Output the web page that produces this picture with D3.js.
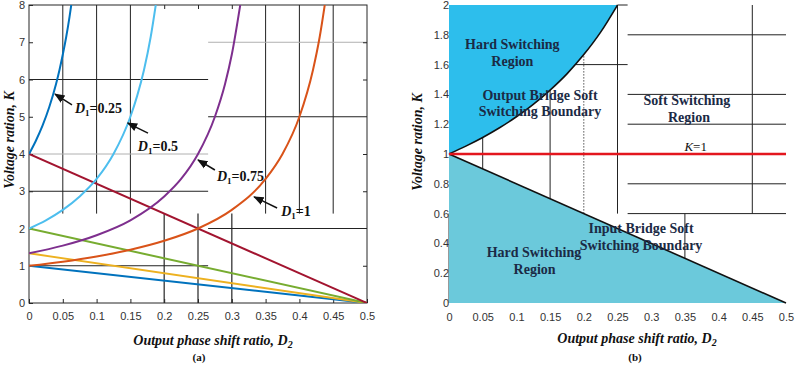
<!DOCTYPE html>
<html><head><meta charset="utf-8">
<script src="https://cdn.jsdelivr.net/npm/d3@7"></script>
<style>body{margin:0;background:#fff}svg{display:block}</style>
</head><body>
<svg id="c" width="798" height="365"></svg>
<script>
// ---------- data ----------
const xTicks = [0,0.05,0.1,0.15,0.2,0.25,0.3,0.35,0.4,0.45,0.5];
const yTicksA = [0,1,2,3,4,5,6,7,8];
const yTicksB = [0,0.2,0.4,0.6,0.8,1,1.2,1.4,1.6,1.8,2];

// rising curves (panel a)
const d2_D1_025 = [0,0.01,0.02,0.03,0.04,0.045,0.05,0.055,0.06,0.0625];
const k_D1_025  = [4,4.35,4.76,5.26,5.88,6.25,6.67,7.14,7.69,8];
const d2_D1_05  = [0,0.025,0.05,0.075,0.1,0.125,0.15,0.16,0.17,0.18,0.1875];
const k_D1_05   = [2,2.22,2.5,2.86,3.33,4,5,5.56,6.25,7.14,8];
const d2_D1_075 = [0,0.05,0.1,0.15,0.2,0.225,0.25,0.275,0.29,0.3,0.3125];
const k_D1_075  = [1.333,1.54,1.82,2.22,2.86,3.33,4,5,5.88,6.67,8];
const d2_D1_1   = [0,0.05,0.1,0.15,0.2,0.25,0.3,0.35,0.375,0.4,0.42,0.43,0.4375];
const k_D1_1    = [1,1.11,1.25,1.43,1.67,2,2.5,3.33,4,5,6.25,7.14,8];
// falling lines (panel a)
const d2_fall = [0,0.5];
const k_fall_blue   = [1,0];
const k_fall_yellow = [1.333,0];
const k_fall_green  = [2,0];
const k_fall_red    = [4,0];

// panel b boundaries
const d2_outBoundary = [0,0.025,0.05,0.075,0.1,0.125,0.15,0.175,0.2,0.225,0.25];
const k_outBoundary  = [1,1.053,1.111,1.176,1.25,1.333,1.429,1.538,1.667,1.818,2];
const d2_inBoundary = [0,0.5];
const k_inBoundary  = [1,0];
const d2_kOne = [0,0.5];
const k_kOne  = [1,1];

// stray grid segments seen in the figure (data units)
const gridA_v = [ {d:0.05,k0:2.4,k1:8},{d:0.1,k0:2.4,k1:8},{d:0.15,k0:2.4,k1:8},
                  {d:0.35,k0:2.4,k1:8},{d:0.4,k0:2.4,k1:8},{d:0.45,k0:2.4,k1:8},
                  {d:0.2,k0:0,k1:2.4},{d:0.25,k0:0,k1:2.4},{d:0.3,k0:0,k1:2.4} ];
const gridA_h = [ {k:6,d0:0,d1:0.265,c:'#222'},{k:3,d0:0,d1:0.265,c:'#222'},{k:1,d0:0,d1:0.265,c:'#222'},
                  {k:4,d0:0,d1:0.265,c:'#b0b0b0'},{k:7,d0:0.265,d1:0.5,c:'#b0b0b0'},
                  {k:5,d0:0.265,d1:0.5,c:'#222'},{k:2,d0:0.265,d1:0.5,c:'#222'} ];
const gridB_v = [ {d:0.05,k0:0.9,k1:1.111},{d:0.15,k0:0.7,k1:1.429},
                  {d:0.25,k0:0.6,k1:2},{d:0.45,k0:0.6,k1:2},{d:0.35,k0:0.3,k1:0.6} ];
const gridB_dotted = [ {d:0.2,k0:0.6,k1:1.667} ];
const gridB_h = [ {k:1.6,d0:0.188,d1:0.265},{k:2,d0:0.25,d1:0.265},
                  {k:1.8,d0:0.265,d1:0.5},{k:1.4,d0:0.265,d1:0.5},{k:1.2,d0:0.265,d1:0.5},
                  {k:0.8,d0:0.265,d1:0.5},{k:0.6,d0:0.265,d1:0.5} ];

// ---------- drawing ----------
const svg = d3.select('#c');
const serif = '"Liberation Serif","Times New Roman",serif';
const sans = '"Liberation Sans",Arial,sans-serif';

const xA = d3.scaleLinear().domain([0,0.5]).range([29,367]);
const yA = d3.scaleLinear().domain([0,8]).range([303,5]);
const xB = d3.scaleLinear().domain([0,0.5]).range([449,786]);
const yB = d3.scaleLinear().domain([0,2]).range([303,5]);

svg.append('defs').html(
 '<clipPath id="clipA"><rect x="29" y="5" width="338" height="298"/></clipPath>'+
 '<marker id="arr" viewBox="0 0 10 10" refX="9" refY="5" markerWidth="7" markerHeight="7" orient="auto"><path d="M0,1 L10,5 L0,9 z" fill="#111"/></marker>');

// ===== Panel A =====
const gA = svg.append('g');
gA.selectAll('line.gv').data(gridA_v).join('line')
  .attr('x1',d=>xA(d.d)).attr('x2',d=>xA(d.d)).attr('y1',d=>yA(d.k0)).attr('y2',d=>yA(d.k1))
  .attr('stroke',d=>d.k0===0?'#444':'#222').attr('stroke-width',d=>d.k0===0?1.4:1);
gA.selectAll('line.gh').data(gridA_h).join('line')
  .attr('x1',d=>xA(d.d0)).attr('x2',d=>xA(d.d1)).attr('y1',d=>yA(d.k)).attr('y2',d=>yA(d.k))
  .attr('stroke',d=>d.c).attr('stroke-width',1);

// frame
const fr = gA.append('g').attr('stroke','#262626').attr('stroke-width',1).attr('fill','none');
fr.append('rect').attr('x',xA(0)).attr('y',yA(8)).attr('width',xA(0.5)-xA(0)).attr('height',yA(0)-yA(8));

// axes
const axB = gA.append('g').attr('transform',`translate(0,${yA(0)})`)
  .call(d3.axisBottom(xA).tickValues(xTicks).tickFormat(d=>d).tickSizeInner(-4).tickSizeOuter(0).tickPadding(9));
const axL = gA.append('g').attr('transform',`translate(${xA(0)},0)`)
  .call(d3.axisLeft(yA).tickValues(yTicksA).tickFormat(d=>d).tickSizeInner(-4).tickSizeOuter(0).tickPadding(4));
const axT = gA.append('g').attr('transform',`translate(0,${yA(8)})`)
  .call(d3.axisTop(xA).tickValues([0.2,0.25,0.3]).tickFormat('').tickSizeInner(-4).tickSizeOuter(0));
const axR = gA.append('g').attr('transform',`translate(${xA(0.5)},0)`)
  .call(d3.axisRight(yA).tickValues([1,3,4,6,7]).tickFormat('').tickSizeInner(-4).tickSizeOuter(0));
[axB,axL,axT,axR].forEach(a=>{a.select('.domain').remove();
  a.selectAll('line').attr('stroke','#262626');
  a.selectAll('text').attr('font-family',sans).attr('font-size',11).attr('fill','#333');});

// curves
const lineA = (xs,ks,curve)=>d3.line().x(i=>xA(xs[i])).y(i=>yA(ks[i])).curve(curve||d3.curveMonotoneX)(d3.range(xs.length));
const seriesA = [
  [d2_fall,k_fall_blue,'#0072BD'],
  [d2_fall,k_fall_yellow,'#EDB120'],
  [d2_fall,k_fall_green,'#77AC30'],
  [d2_fall,k_fall_red,'#A2142F'],
  [d2_D1_025,k_D1_025,'#0072BD'],
  [d2_D1_05,k_D1_05,'#4DBEEE'],
  [d2_D1_075,k_D1_075,'#7E2F8E'],
  [d2_D1_1,k_D1_1,'#D95319']
];
const cg = gA.append('g').attr('clip-path','url(#clipA)');
seriesA.forEach(s=>cg.append('path').attr('d',lineA(s[0],s[1])).attr('fill','none')
  .attr('stroke',s[2]).attr('stroke-width',2));

// annotations
const annA = [
  {t:'0.25', tx:0.068, tk:5.23, ax:0.0636, ak:5.32, hx:0.0385, hk:5.61},
  {t:'0.5',  tx:0.161, tk:4.21, ax:0.176, ak:4.56, hx:0.146, hk:4.83},
  {t:'0.75', tx:0.278, tk:3.41, ax:0.275, ak:3.57, hx:0.25, hk:3.84},
  {t:'1',    tx:0.373, tk:2.47, ax:0.367, ak:2.55, hx:0.333, hk:2.85}
];
annA.forEach(a=>{
  gA.append('line').attr('x1',xA(a.ax)).attr('y1',yA(a.ak)).attr('x2',xA(a.hx)).attr('y2',yA(a.hk))
    .attr('stroke','#111').attr('stroke-width',1.5).attr('marker-end','url(#arr)');
  const t = gA.append('text').attr('x',xA(a.tx)).attr('y',yA(a.tk)).attr('dy','0.35em')
    .attr('font-family',serif).attr('font-weight','bold').attr('font-size',14).attr('fill','#111');
  t.append('tspan').attr('font-style','italic').text('D');
  t.append('tspan').attr('font-size',9).attr('dy',3).text('1');
  t.append('tspan').attr('dy',-3).text('='+a.t);
});

// labels
function xLabel(g,cx,cy){
  const t=g.append('text').attr('x',cx).attr('y',cy).attr('text-anchor','middle').attr('dy','0.35em')
   .attr('font-family',serif).attr('font-weight','bold').attr('font-style','italic').attr('font-size',14).attr('fill','#111');
  t.append('tspan').text('Output phase shift ratio, D');
  t.append('tspan').attr('font-size',10).attr('dy',3).text('2');
}
function yLabel(g,cx,cy){
  g.append('text').attr('transform',`translate(${cx},${cy}) rotate(-90)`).attr('text-anchor','middle').attr('dy','0.35em')
   .attr('font-family',serif).attr('font-weight','bold').attr('font-style','italic').attr('font-size',14).attr('fill','#111')
   .text('Voltage ration, K');
}
xLabel(gA,213,340);
yLabel(gA,9,140);
gA.append('text').attr('x',199).attr('y',357).attr('text-anchor','middle').attr('dy','0.35em')
  .attr('font-family',serif).attr('font-weight','bold').attr('font-size',11).attr('fill','#111').text('(a)');

// ===== Panel B =====
const gB = svg.append('g');
const axBL = gB.append('g').attr('transform',`translate(${xB(0)+1},0)`)
  .call(d3.axisLeft(yB).tickValues(yTicksB).tickFormat(d=>d).tickSize(0).tickPadding(1));
const axBB = gB.append('g').attr('transform',`translate(0,${yB(0)})`)
  .call(d3.axisBottom(xB).tickValues(xTicks).tickFormat(d=>d).tickSize(0).tickPadding(10));
[axBL,axBB].forEach(a=>{a.select('.domain').remove();
  a.selectAll('text').attr('font-family',sans).attr('font-size',11).attr('fill','#333');});
gB.append('line').attr('x1',xB(0)).attr('x2',xB(0)).attr('y1',yB(0)).attr('y2',yB(0.6))
  .attr('stroke','#555').attr('stroke-width',1.2);

// fills
const upperIdx = d3.range(d2_outBoundary.length);
const upperPts = upperIdx.map(i=>[xB(d2_outBoundary[i]),yB(k_outBoundary[i])]);
gB.append('path').attr('d', d3.line().curve(d3.curveMonotoneX)(upperPts)+`L${xB(0)},${yB(2)}Z`)
  .attr('fill','#2DBEEC');
gB.append('path').attr('d', `M${xB(0)},${yB(0)}L${xB(d2_inBoundary[0])},${yB(k_inBoundary[0])}L${xB(d2_inBoundary[1])},${yB(k_inBoundary[1])}Z`)
  .attr('fill','#6BC9DB');

// stray grid
gB.selectAll('line.gv').data(gridB_v).join('line')
  .attr('x1',d=>xB(d.d)).attr('x2',d=>xB(d.d)).attr('y1',d=>yB(d.k0)).attr('y2',d=>yB(d.k1))
  .attr('stroke','#222').attr('stroke-width',1);
gB.selectAll('line.gd').data(gridB_dotted).join('line')
  .attr('x1',d=>xB(d.d)).attr('x2',d=>xB(d.d)).attr('y1',d=>yB(d.k0)).attr('y2',d=>yB(d.k1))
  .attr('stroke','#555').attr('stroke-width',1).attr('stroke-dasharray','1.5,1.5');
gB.selectAll('line.gh').data(gridB_h).join('line')
  .attr('x1',d=>xB(d.d0)).attr('x2',d=>xB(d.d1)).attr('y1',d=>yB(d.k)).attr('y2',d=>yB(d.k))
  .attr('stroke','#222').attr('stroke-width',1);

// boundaries
gB.append('path').attr('d',d3.line().curve(d3.curveMonotoneX)(upperPts)).attr('fill','none')
  .attr('stroke','#111').attr('stroke-width',1.6);
gB.append('path').attr('d',d3.line()(d3.range(2).map(i=>[xB(d2_inBoundary[i]),yB(k_inBoundary[i])])))
  .attr('fill','none').attr('stroke','#111').attr('stroke-width',1.6);
gB.append('path').attr('d',d3.line()(d3.range(2).map(i=>[xB(d2_kOne[i]),yB(k_kOne[i])])))
  .attr('fill','none').attr('stroke','#E3161E').attr('stroke-width',2.5);

// region texts
const regionTexts = [
  {t:'Hard Switching', d:0.094, k:1.735},
  {t:'Region', d:0.094, k:1.625},
  {t:'Output Bridge Soft', d:0.135, k:1.396},
  {t:'Switching Boundary', d:0.135, k:1.289},
  {t:'Soft Switching', d:0.353, k:1.362},
  {t:'Region', d:0.356, k:1.248},
  {t:'Input Bridge Soft', d:0.285, k:0.503},
  {t:'Switching Boundary', d:0.285, k:0.389},
  {t:'Hard Switching', d:0.126, k:0.342},
  {t:'Region', d:0.127, k:0.228}
];
regionTexts.forEach(r=>gB.append('text').attr('x',xB(r.d)).attr('y',yB(r.k)).attr('dy','0.35em')
  .attr('text-anchor','middle').attr('font-family',serif).attr('font-weight','bold').attr('font-size',14)
  .attr('fill','#1B2A45').text(r.t));
const k1 = gB.append('text').attr('x',xB(0.366)).attr('y',yB(1.054)).attr('dy','0.35em').attr('text-anchor','middle')
  .attr('font-family',serif).attr('font-size',13).attr('fill','#111');
k1.append('tspan').attr('font-style','italic').text('K');
k1.append('tspan').text('=1');

xLabel(gB,637,338);
yLabel(gB,417,142);
gB.append('text').attr('x',635).attr('y',357).attr('text-anchor','middle').attr('dy','0.35em')
  .attr('font-family',serif).attr('font-weight','bold').attr('font-size',11).attr('fill','#111').text('(b)');
</script>
</body></html>
